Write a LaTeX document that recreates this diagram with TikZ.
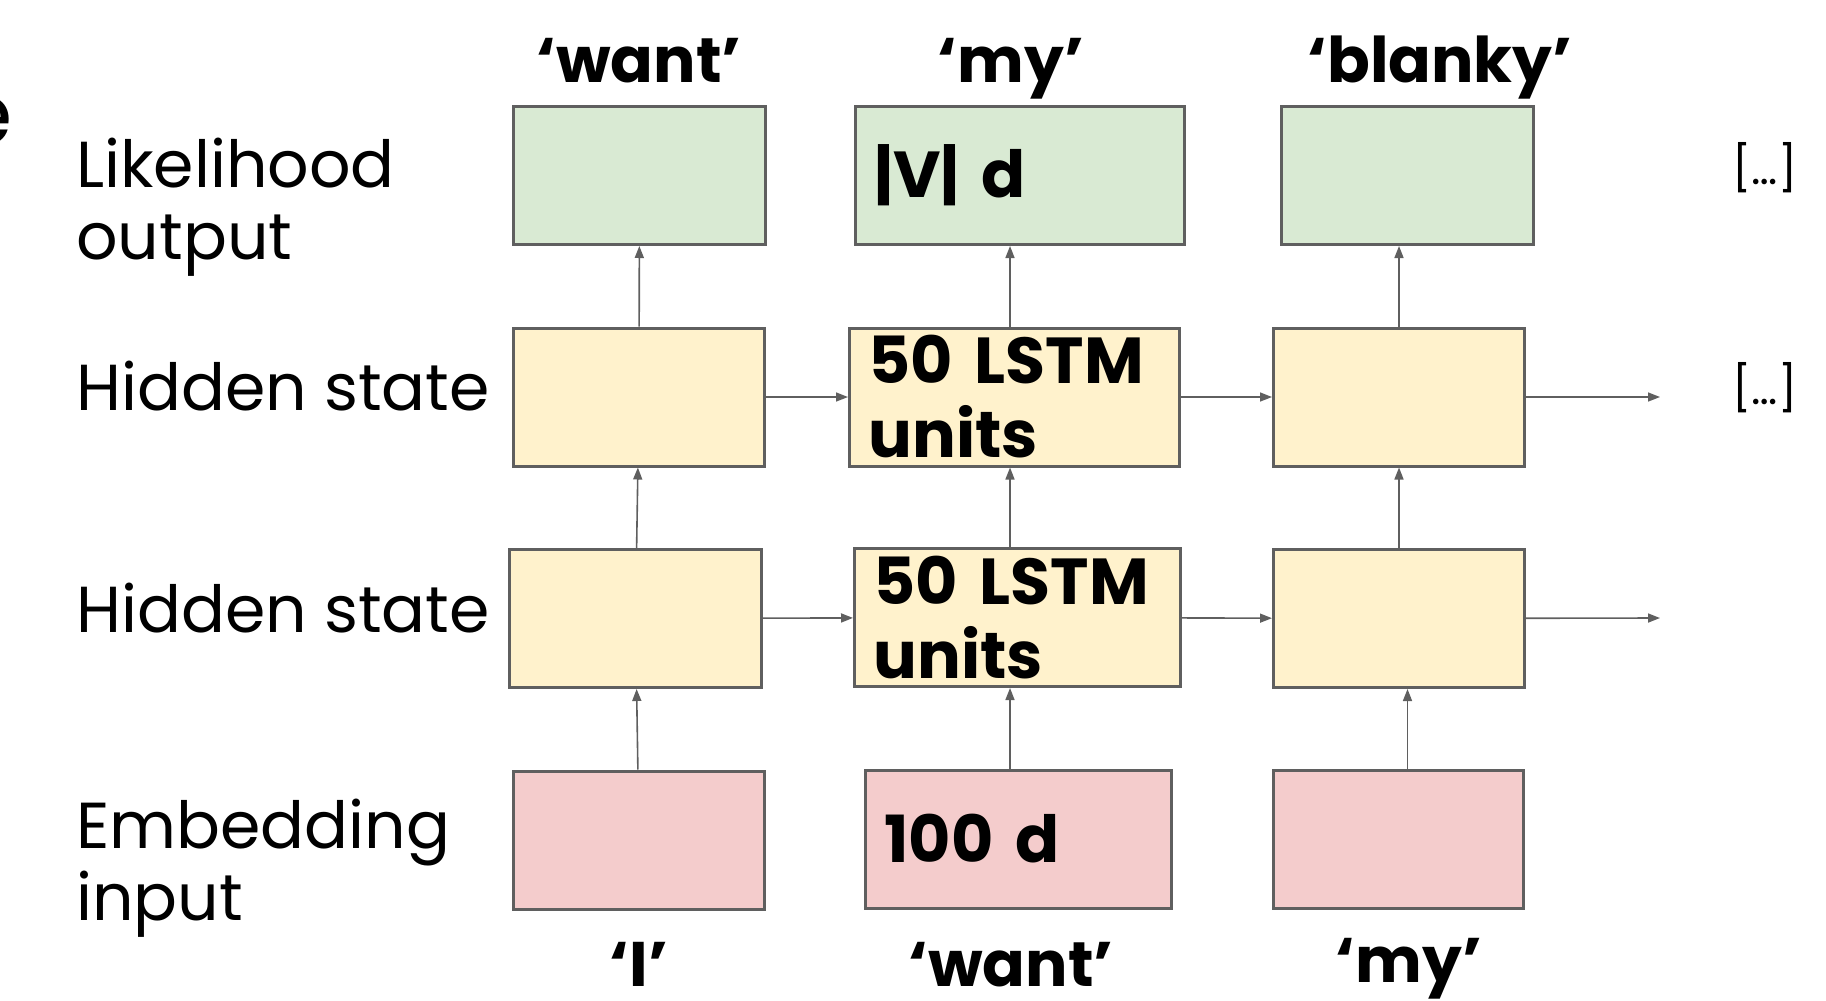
\documentclass[tikz,border=0pt]{standalone}
\usepackage{fontspec}
\setmainfont{Poppins}
\usetikzlibrary{arrows.meta}
\definecolor{outgreen}{HTML}{D9EAD3}
\definecolor{hidyellow}{HTML}{FFF2CC}
\definecolor{embpink}{HTML}{F4CCCC}
\definecolor{boxgray}{HTML}{5F5F5F}

\begin{document}
\begin{tikzpicture}[x=1pt,y=-1pt]
				\useasboundingbox (0,0) rectangle (1826,1001);
				\begin{scope}[every node/.style = {anchor=base west, align=left, inner sep=0pt,
						font=\fontsize{65}{72}\selectfont}]
					\node (Lout) at (76,259) {Likelihood\\output};
					\node (Lhid) at (76,410) {Hidden state};
					\node (Lhidb) at (76,632) {Hidden state};
					\node (Lemb) at (76,920) {Embedding\\input};
					\node[anchor=base east, font=\fontsize{86}{86}\selectfont] (Ecut) at (13,144) {e};
					\node[anchor=center, font=\fontsize{45}{45}\selectfont] (Dots) at (1765,168) {[…]};
					\node[anchor=center, font=\fontsize{45}{45}\selectfont] (Dotsb) at (1765,388) {[…]};
				\end{scope}
				\begin{scope}[every node/.style = {anchor=base, inner sep=0pt,
						font=\fontsize{63}{63}\selectfont\bfseries}]
					\node (Wa) at (639,82) {‘want’};
					\node (Wb) at (1011,82) {‘my’};
					\node (Wc) at (1440,82) {‘blanky’};
					\node (Wd) at (639,986) {‘I’};
					\node (We) at (1011,986) {‘want’};
					\node (Wf) at (1409,982) {‘my’};
				\end{scope}
				\begin{scope}[every node/.style = {rectangle, draw=boxgray, line width=3pt,
						minimum height=138pt, inner xsep=19pt, align=left,
						font=\fontsize{65}{74}\selectfont\bfseries}]
					\node[fill=outgreen, minimum width=252pt] (O1) at (639.5,175.5) {};
					\node[fill=outgreen, minimum width=329pt, text width=291pt] (O2) at (1020,175.5) {|V| d};
					\node[fill=outgreen, minimum width=252pt] (O3) at (1407.5,175.5) {};
					\node[fill=hidyellow, minimum width=251pt] (H11) at (639,397) {};
					\node[fill=hidyellow, minimum width=330pt, text width=292pt] (H12) at (1014.5,397) {50 LSTM\\units};
					\node[fill=hidyellow, minimum width=251pt] (H13) at (1399,397) {};
					\node[fill=hidyellow, minimum width=252pt] (H21) at (635.5,618.5) {};
					\node[fill=hidyellow, minimum width=326pt, text width=288pt] (H22) at (1017.5,617.5) {50 LSTM\\units};
					\node[fill=hidyellow, minimum width=251pt] (H23) at (1399,618.5) {};
					\node[fill=embpink, minimum width=251pt] (E1) at (639,840) {};
					\node[fill=embpink, minimum width=306pt, text width=268pt] (E2) at (1018.5,839) {100 d};
					\node[fill=embpink, minimum width=250pt] (E3) at (1398.5,839) {};
				\end{scope}
					\coordinate (C2) at (1010,0);
					\coordinate (R1) at (1660,397);
					\coordinate (R2) at (1660,618);
				\begin{scope}[>={Triangle[length=12pt, width=9pt]},
						every edge/.style={draw=boxgray, line width=1.6pt}]
					\path [->] (E1) edge (H21);
					\path [->] (H21) edge (H11);
					\path [->] (H11) edge (O1);
					\path [->] (E2.north -| C2) edge (H22.south -| C2);
					\path [->] (H22.north -| C2) edge (H12.south -| C2);
					\path [->] (H12.north -| C2) edge (O2.south -| C2);
					\path [->] (E3.north -| O3) edge (H23.south -| O3);
					\path [->] (H23) edge (H13);
					\path [->] (H13.north) edge (H13.north |- O3.south);
					\path [->] (H11) edge (H12);
					\path [->] (H12) edge (H13);
					\path [->] (H13) edge (R1);
					\path [->] (H21) edge (H22);
					\path [->] (H22) edge (H23);
					\path [->] (H23) edge (R2);
				\end{scope}
			\end{tikzpicture}
\end{document}
